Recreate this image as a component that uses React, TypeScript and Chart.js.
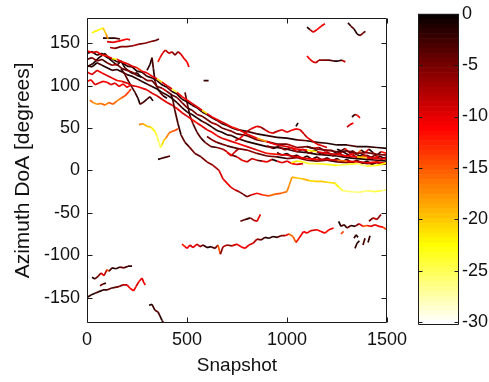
import React, { useEffect, useRef } from 'react';
import { Chart, registerables } from 'chart.js';

Chart.register(...registerables);

type Pt = [number, number, number]; // [snapshot, azimuth, power dB]

const xTicks = [0, 500, 1000, 1500];
const yTicks = [-150, -100, -50, 0, 50, 100, 150];
const powerTicks = [0, -5, -10, -15, -20, -25, -30];
const powerMin = -30.3;

// main bundle: shared snapshot grid
const bundleSnapshots = [0,25,50,75,100,125,150,175,200,225,250,275,300,325,350,375,400,425,450,475,500,525,550,575,600,625,650,675,700,725,750,800,850,900,950,1000,1050,1100,1150,1200,1250,1300,1350,1400,1450,1500];
const bundle01Az = [138,140,136,138,133,132,128,128,123,122,117,116,111,109,106,101,98,93,90,84,81,77,74,69,66,62,59,55,53,50,48,46,43,41,39,38,36,35,33,32,30,30,28,28,27,26];
const bundle01Pw = [-2,-1,-1,-3,-1,-2,-1,-4,-1,-2,-1,-1,-3,-1,-2,-1,-1,-4,-1,-2,-1,-1,-3,-1,-2,-1,-1,-5,-1,-2,-1,-1,-3,-1,-2,-1,-1,-4,-1,-2,-1,-1,-3,-1,-2,-1];
const bundle02Az = [131,133,129,131,127,124,125,120,118,116,112,110,106,106,99,97,93,89,86,80,74,71,66,64,60,56,54,50,48,46,43,41,36,34,31,31,27,28,25,24,22,23,20,21,19,18];
const bundle02Pw = [-5,-4,-6,-5,-3,-5,-7,-5,-4,-6,-5,-1,-5,-6,-4,-5,-8,-5,-4,-6,-5,-3,-5,-6,-4,-5,-7,-5,-4,-6,-5,-3,-5,-6,-4,-5,-7,-5,-4,-6,-5,-3,-5,-6,-5,-5];
const bundle03Az = [141,139,140,136,135,132,131,128,126,123,121,117,115,111,108,104,100,96,92,87,83,79,75,71,67,63,60,57,54,51,49,43,38,34,30,28,25,24,22,20,19,17,16,15,14,14];
const bundle03Pw = [-10,-11,-9,-10,-12,-10,-22,-10,-11,-9,-10,-13,-10,-11,-10,-20,-10,-9,-24,-10,-11,-10,-9,-10,-21,-10,-11,-10,-9,-10,-12,-10,-11,-18,-10,-9,-10,-11,-23,-10,-9,-10,-11,-20,-10,-10];
const bundle04Az = [124,122,127,124,121,118,119,116,113,111,108,105,102,99,96,92,89,85,80,74,69,66,62,58,55,51,47,45,42,41,38,34,31,28,27,25,22,21,19,18,17,15,14,13,12,11];
const bundle04Pw = [-1,-2,-1,-3,-1,-1,-2,-1,-4,-1,-1,-2,-1,-3,-1,-1,-2,-1,-1,-3,-1,-2,-1,-1,-4,-1,-2,-1,-1,-3,-1,-2,-1,-1,-4,-1,-2,-1,-1,-3,-1,-2,-1,-1,-2,-1];
const bundle05Az = [116,113,118,115,112,109,106,105,103,100,99,97,95,91,88,84,80,77,73,68,64,60,56,52,48,45,41,38,36,34,32,28,24,20,19,18,16,14,13,13,12,11,10,9,10,8];
const bundle05Pw = [-9,-10,-9,-11,-10,-9,-10,-12,-9,-10,-9,-11,-10,-9,-10,-8,-10,-9,-11,-10,-9,-10,-12,-10,-9,-10,-11,-9,-10,-9,-10,-11,-9,-10,-12,-10,-9,-10,-11,-9,-10,-16,-10,-9,-11,-10];

const track06: Pt[] = [[600,40,-4],[625,36,-5],[650,33,-6],[675,31,-4],[700,29,-5],[750,26,-3],[800,24,-5],[850,20,-6],[900,17,-4],[950,16,-5],[1000,14,-1],[1050,15,-5],[1100,12,-6],[1150,11,-4],[1200,12,-5],[1250,10,-3],[1300,9,-5],[1350,11,-6],[1400,8,-4],[1450,9,-5],[1500,7,-6]];
const track07: Pt[] = [[1020,9,-22],[1050,11,-21],[1080,10,-23],[1110,8,-24],[1150,8,-25],[1200,7,-24],[1250,6,-23],[1300,7,-25],[1350,8,-24],[1400,5,-26],[1450,6,-24],[1500,9,-22]];
const track08: Pt[] = [[740,35,-8],[760,37,-9],[780,41,-10],[800,46,-9],[820,49,-8],[850,52,-10],[870,51,-9],[890,48,-6],[910,45,-9],[930,44,-10],[950,46,-8],[975,48,-9],[1000,45,-10],[1020,47,-9],[1045,49,-11],[1065,48,-10],[1085,43,-9],[1100,39,-8],[1125,35,-10],[1150,31,-9],[1175,29,-10],[1200,27,-9]];
const track09: Pt[] = [[700,21,-9],[725,18,-10],[750,16,-5],[775,12,-9],[800,10,-10],[825,14,-8],[850,12,-9],[875,11,-4],[900,10,-10],[925,13,-9],[950,11,-1],[975,9,-10],[1000,11,-9],[1025,8,-10],[1050,7,-11],[1080,8,-9]];
const track10: Pt[] = [[25,162,-24],[40,164,-22],[60,166,-22],[80,168,-23],[95,161,-20],[105,155,-18]];
const track11: Pt[] = [[80,156,-2],[110,156,-1],[140,156,-1],[165,155,-3]];
const track12: Pt[] = [[100,152,-10],[130,151,-9],[170,153,-10],[200,155,-11],[215,154,-10]];
const track13: Pt[] = [[115,145,-5],[140,144,-7],[170,146,-5],[200,146,-6],[230,147,-5],[260,149,-7],[290,150,-5],[320,152,-6],[340,153,-5],[360,155,-4]];
const track14: Pt[] = [[355,128,-16],[365,133,-12],[380,139,-10],[392,142,-9],[410,138,-8],[425,140,-9],[440,136,-6],[455,140,-5],[470,137,-8],[485,132,-10],[500,128,-10],[510,122,-11]];
const track15: Pt[] = [[0,105,-10],[20,107,-11],[40,101,-10],[60,103,-9],[80,105,-10],[100,104,-11],[120,101,-10],[140,103,-9],[160,99,-10],[180,102,-11],[200,98,-10],[215,100,-10]];
const track16: Pt[] = [[15,83,-17],[30,80,-16],[50,78,-18],[70,79,-17],[90,77,-16],[110,80,-17],[130,78,-15],[150,82,-16],[170,85,-17],[190,88,-15],[210,93,-14],[220,96,-13]];
const track17: Pt[] = [[260,54,-18],[280,55,-17],[300,52,-19],[320,51,-20],[340,46,-22],[350,40,-24],[360,33,-25],[367,27,-26],[375,30,-24],[385,36,-21],[395,38,-19],[410,44,-17],[425,46,-16],[440,47,-15],[455,49,-14]];
const track18: Pt[] = [[355,13,-2],[370,14,-1],[385,15,-3],[400,16,-2],[415,17,-4]];
const track19: Pt[] = [[170,120,-3],[190,113,-2],[210,104,-4],[225,98,-1],[240,92,-3],[255,85,-2],[265,78,-1],[280,80,-4],[300,84,-2],[315,87,-3],[330,82,-1]];
const track20: Pt[] = [[300,118,-4],[315,125,-2],[325,133,-1],[332,120,-3],[340,105,-2],[350,98,-5],[365,92,-3],[380,88,-4],[400,85,-2]];
const track21: Pt[] = [[420,90,-3],[430,82,-2],[440,70,-4],[455,55,-3],[470,42,-2],[490,33,-4],[510,28,-3],[540,20,-5],[570,16,-4],[600,10,-5],[630,6,-6],[660,0,-7],[680,-10,-9],[700,-15,-10],[720,-20,-10],[740,-23,-9],[760,-25,-8],[780,-28,-5],[800,-31,-4],[820,-29,-6],[850,-27,-10],[880,-29,-12],[910,-30,-14],[940,-28,-16],[970,-27,-15],[1000,-25,-16],[1010,-18,-17],[1025,-8,-18],[1050,-9,-19],[1080,-10,-20],[1110,-12,-19],[1140,-13,-21],[1170,-13,-20],[1200,-14,-20],[1240,-15,-21],[1260,-20,-22],[1280,-24,-24],[1320,-25,-26],[1360,-26,-27],[1400,-24,-26],[1440,-25,-25],[1470,-24,-24],[1500,-23,-26]];
const track22: Pt[] = [[490,92,-3],[505,75,-4],[515,64,-2],[530,55,-5],[550,45,-3],[570,38,-4],[590,33,-2],[620,28,-5],[650,27,-3],[680,25,-6],[700,22,-8],[720,17,-10],[740,22,-9],[760,26,-8]];
const track23: Pt[] = [[475,-87,-17],[490,-90,-12],[500,-92,-10],[515,-88,-11],[530,-91,-9],[550,-87,-10],[565,-90,-8],[580,-88,-6],[600,-91,-2],[620,-90,-1],[640,-92,-3],[655,-88,-5],[667,-99,-15],[680,-90,-6],[700,-88,-8],[725,-89,-6],[750,-87,-9],[770,-90,-10],[790,-92,-11],[810,-88,-10],[830,-86,-9],[850,-81,-8],[870,-82,-6],[890,-79,-3],[910,-80,-1],[930,-78,-2],[950,-79,-1],[970,-77,-4],[990,-77,-6],[1010,-75,-10],[1030,-78,-16],[1045,-85,-15],[1060,-80,-12],[1083,-72,-10],[1100,-74,-11],[1120,-71,-10],[1150,-70,-9],[1170,-72,-11],[1190,-74,-10],[1210,-70,-12],[1233,-68,-10]];
const track24: Pt[] = [[1258,-60,-2],[1270,-66,-1],[1285,-64,-3],[1300,-68,-2],[1320,-65,-4],[1340,-66,-1],[1360,-63,-5],[1380,-66,-10],[1400,-65,-15],[1420,-66,-12],[1440,-64,-9],[1460,-66,-10],[1480,-67,-11],[1500,-70,-14]];
const track25: Pt[] = [[1270,-75,-16],[1283,-72,-14]];
const track26: Pt[] = [[1335,-80,-1],[1345,-76,-2],[1355,-79,-1]];
const track27: Pt[] = [[1340,-92,-3],[1350,-86,-2],[1362,-83,-1]];
const track28: Pt[] = [[1380,-88,-5],[1390,-80,-3]];
const track29: Pt[] = [[1405,-85,-1],[1415,-77,-2]];
const track30: Pt[] = [[1410,-60,-3],[1430,-56,-5],[1450,-58,-8],[1470,-52,-6]];
const track31: Pt[] = [[767,-60,-5],[790,-58,-4],[817,-56,-2],[835,-59,-6],[850,-60,-8],[867,-52,-10]];
const track32: Pt[] = [[0,-150,-1],[20,-147,-2],[40,-145,-1],[60,-143,-3],[80,-141,-1],[100,-141,-2],[120,-139,-4],[140,-138,-3],[160,-137,-5],[180,-135,-6],[200,-135,-8],[215,-139,-10],[233,-142,-11],[245,-137,-10],[260,-131,-9],[275,-127,-11],[285,-133,-10],[292,-135,-11]];
const track33: Pt[] = [[25,-126,-3],[40,-128,-1],[55,-125,-4],[70,-121,-6],[85,-124,-10],[100,-117,-8],[110,-119,-15],[125,-115,-3],[145,-116,-1],[165,-114,-2],[185,-115,-4],[205,-113,-3],[225,-113,-2]];
const track34: Pt[] = [[65,-136,-3],[80,-134,-5],[95,-133,-2]];
const track35: Pt[] = [[310,-159,-3],[325,-158,-1],[340,-165,-2],[355,-167,-4],[365,-172,-3],[375,-177,-1],[383,-180,-2]];
const track36: Pt[] = [[1100,169,-2],[1115,166,-1],[1130,163,-8],[1150,166,-10],[1170,170,-11],[1190,173,-10]];
const track37: Pt[] = [[1305,174,-3],[1320,170,-2],[1335,167,-4],[1350,161,-1],[1365,159,-2],[1380,162,-5],[1392,164,-4]];
const track38: Pt[] = [[1100,135,-10],[1115,131,-11],[1130,128,-10],[1145,127,-9],[1160,130,-8],[1185,130,-6],[1210,130,-5],[1235,129,-3],[1255,129,-1],[1275,130,-2],[1292,128,-8]];
const track39: Pt[] = [[1325,63,-6],[1340,66,-2],[1352,65,-8],[1365,62,-11]];
const track40: Pt[] = [[1300,51,-2],[1315,54,-8],[1332,56,-10]];
const track41: Pt[] = [[1045,52,-2],[1055,56,-1]];
const track42: Pt[] = [[583,106,-1],[608,106,-2]];
const track43: Pt[] = [[0,122,-1],[30,126,-2],[60,133,-1],[90,138,-1],[110,132,-3],[130,128,-1],[150,124,-2],[170,129,-1],[190,121,-1],[210,117,-4],[230,114,-1],[250,115,-2],[270,110,-1]];
const track44: Pt[] = [[1100,28,-10],[1130,26,-1],[1160,27,-9],[1190,23,-3],[1220,24,-12],[1250,20,-1],[1280,22,-8],[1310,18,-2],[1340,20,-11],[1370,16,-1],[1400,18,-9],[1430,14,-5],[1460,17,-10],[1500,13,-1]];
const track45: Pt[] = [[1250,25,-16],[1270,23,-1],[1290,26,-4],[1310,21,-12],[1330,23,-1],[1350,19,-6],[1370,24,-15],[1390,21,-2],[1410,25,-10],[1430,21,-1],[1450,18,-7],[1470,22,-3],[1500,20,-12]];
const track46: Pt[] = [[950,21,-1],[975,18,-3],[1000,20,-1],[1025,16,-2],[1050,18,-1],[1075,14,-5],[1100,17,-1],[1125,13,-2],[1150,16,-1],[1175,12,-4],[1200,15,-1],[1225,11,-2],[1250,14,-1],[1275,10,-3],[1300,13,-1],[1325,9,-2],[1350,12,-1],[1375,8,-6],[1400,11,-1],[1425,7,-2],[1450,10,-1],[1475,7,-3],[1500,9,-1]];
const track47: Pt[] = [[900,29,-6],[930,26,-5],[960,28,-1],[990,24,-6],[1020,27,-5],[1050,22,-9],[1080,25,-5],[1110,20,-4],[1140,24,-6],[1170,19,-1],[1200,22,-5],[1230,17,-6],[1260,21,-4],[1290,16,-5],[1320,20,-8],[1350,15,-5],[1380,19,-1],[1410,14,-6],[1440,18,-5],[1470,13,-4],[1500,16,-6]];

function zipBundle(az: number[], pw: number[]): Pt[] {
  return bundleSnapshots.map((x, i) => [x, az[i], pw[i] ?? -5] as Pt);
}

const tracks: Pt[][] = [
  track16, track17, track07, track21, track23, track24, track25, track15, track14, track10,
  zipBundle(bundle03Az, bundle03Pw), zipBundle(bundle05Az, bundle05Pw), track08, track09, track12, track13,
  zipBundle(bundle02Az, bundle02Pw), track06, track45, track44, track47,
  zipBundle(bundle04Az, bundle04Pw), zipBundle(bundle01Az, bundle01Pw), track46, track43, track11, track18, track19, track20, track22,
  track26, track27, track28, track29, track30, track31, track32, track33, track34, track35, track36, track37,
  track38, track39, track40, track41, track42,
];

// MATLAB "hot" colormap, 64 levels, 0 dB -> black, -30 dB -> white
function hotIndex(i: number): string {
  const r = Math.min(1, i / 24);
  const g = Math.max(0, Math.min(1, (i - 24) / 24));
  const b = Math.max(0, Math.min(1, (i - 48) / 16));
  return `rgb(${Math.round(r * 255)},${Math.round(g * 255)},${Math.round(b * 255)})`;
}
function hot(p: number): string {
  let i = Math.round((p / powerMin) * 63) + 1;
  i = Math.max(1, Math.min(64, i));
  return hotIndex(i);
}

const boxPlugin = {
  id: 'matlabBox',
  afterDatasetsDraw(chart: any) {
    const { ctx, chartArea } = chart;
    const { left, right, top, bottom } = chartArea;
    const xs = chart.scales.x;
    const ys = chart.scales.y;
    ctx.save();
    ctx.strokeStyle = '#1a1a1a';
    ctx.lineWidth = 1;
    ctx.beginPath();
    const L = Math.round(left) + 0.5, R = Math.round(right) - 0.5;
    const T = Math.round(top) + 0.5, B = Math.round(bottom) - 0.5;
    ctx.rect(L, T, R - L, B - T);
    const tl = 5;
    xTicks.forEach((v) => {
      const x = Math.round(xs.getPixelForValue(v)) + 0.5;
      ctx.moveTo(x, B); ctx.lineTo(x, B - tl);
      ctx.moveTo(x, T); ctx.lineTo(x, T + tl);
    });
    yTicks.forEach((v) => {
      const y = Math.round(ys.getPixelForValue(v)) + 0.5;
      ctx.moveTo(L, y); ctx.lineTo(L + tl, y);
      ctx.moveTo(R, y); ctx.lineTo(R - tl, y);
    });
    ctx.stroke();
    ctx.restore();
  },
};

const colorbarPlugin = {
  id: 'colorbarFill',
  afterDraw(chart: any) {
    const { ctx, chartArea } = chart;
    const { left, right, top, bottom } = chartArea;
    const ys = chart.scales.y;
    const h = (bottom - top) / 64;
    ctx.save();
    for (let k = 0; k < 64; k++) {
      ctx.fillStyle = hotIndex(k + 1);
      ctx.fillRect(left, top + k * h, right - left, h + 0.6);
    }
    ctx.strokeStyle = '#1a1a1a';
    ctx.lineWidth = 1;
    ctx.beginPath();
    const L = Math.round(left) + 0.5, R = Math.round(right) - 0.5;
    const T = Math.round(top) + 0.5, B = Math.round(bottom) - 0.5;
    ctx.rect(L, T, R - L, B - T);
    powerTicks.forEach((v) => {
      const y = Math.round(ys.getPixelForValue(v)) + 0.5;
      ctx.moveTo(L, y); ctx.lineTo(L + 4, y);
      ctx.moveTo(R, y); ctx.lineTo(R - 4, y);
    });
    ctx.stroke();
    ctx.restore();
  },
};

export default function App() {
  const mainRef = useRef<HTMLCanvasElement>(null);
  const cbRef = useRef<HTMLCanvasElement>(null);

  useEffect(() => {
    Chart.defaults.font.family = '"Liberation Sans", Arial, Helvetica, sans-serif';
    Chart.defaults.color = '#111';
    const datasets = tracks.map((tr) => ({
      data: tr.map(([x, y]) => ({ x, y })),
      borderColor: hot(tr[0][2]),
      backgroundColor: hot(tr[0][2]),
      borderWidth: 1.7,
      pointRadius: 0,
      fill: false,
      tension: 0,
      segment: {
        borderColor: (c: any) => hot(tr[c.p1DataIndex][2]),
      },
    }));

    const main = new Chart(mainRef.current!, {
      type: 'line',
      data: { datasets },
      options: {
        animation: false,
        responsive: false,
        maintainAspectRatio: false,
        devicePixelRatio: 1,
        layout: { padding: { left: 0, top: 13, right: 102, bottom: 0 } },
        plugins: { legend: { display: false }, tooltip: { enabled: false } },
        scales: {
          x: {
            type: 'linear',
            min: 0,
            max: 1500,
            grid: { display: false, drawTicks: false },
            border: { display: false },
            afterBuildTicks: (s: any) => { s.ticks = xTicks.map((v) => ({ value: v })); },
            afterFit: (s: any) => { s.height = 59; },
            ticks: { padding: 6, color: '#111', font: { size: 18 }, maxRotation: 0, autoSkip: false, callback: (v: any) => String(v) },
            title: { display: true, text: 'Snapshot', color: '#111', font: { size: 19 }, padding: { top: 0, bottom: 5 } },
          },
          y: {
            type: 'linear',
            min: -180,
            max: 180,
            grid: { display: false, drawTicks: false },
            border: { display: false },
            afterBuildTicks: (s: any) => { s.ticks = yTicks.map((v) => ({ value: v })); },
            afterFit: (s: any) => { s.width = 87; },
            ticks: { padding: 7, color: '#111', font: { size: 18 }, autoSkip: false, callback: (v: any) => String(v) },
            title: { display: true, text: 'Azimuth DoA [degrees]', color: '#111', font: { size: 21 }, padding: { top: 11, bottom: 0 } },
          },
        },
      },
      plugins: [boxPlugin],
    } as any);

    const cb = new Chart(cbRef.current!, {
      type: 'scatter',
      data: { datasets: [] },
      options: {
        animation: false,
        responsive: false,
        maintainAspectRatio: false,
        devicePixelRatio: 1,
        layout: { padding: { left: 38, top: 13, right: 0, bottom: 57 } },
        plugins: { legend: { display: false }, tooltip: { enabled: false } },
        scales: {
          x: { type: 'linear', display: false, min: 0, max: 1 },
          y: {
            type: 'linear',
            position: 'right',
            min: powerMin,
            max: 0,
            grid: { display: false, drawTicks: false },
            border: { display: false },
            afterBuildTicks: (s: any) => { s.ticks = powerTicks.map((v) => ({ value: v })); },
            afterFit: (s: any) => { s.width = 30; },
            ticks: { padding: 3, color: '#111', font: { size: 18 }, autoSkip: false, callback: (v: any) => String(v) },
          },
        },
      },
      plugins: [colorbarPlugin],
    } as any);

    return () => { main.destroy(); cb.destroy(); };
  }, []);

  return (
    <div style={{ position: 'fixed', left: 0, top: 0, width: 489, height: 382, background: '#fff', overflow: 'hidden' }}>
      <canvas ref={mainRef} width={489} height={382} style={{ position: 'absolute', left: 0, top: 0, width: 489, height: 382 }} />
      <canvas ref={cbRef} width={109} height={382} style={{ position: 'absolute', left: 380, top: 0, width: 109, height: 382 }} />
    </div>
  );
}
